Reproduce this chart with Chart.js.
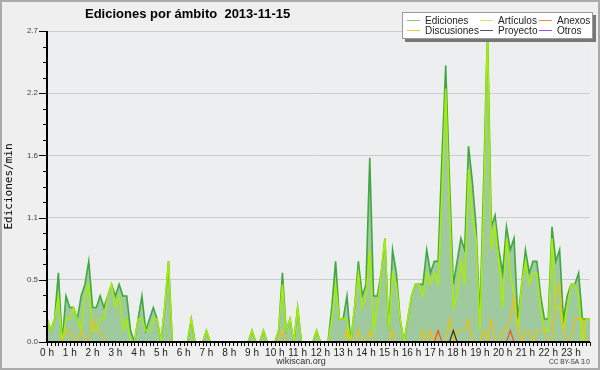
<!DOCTYPE html>
<html>
<head>
<meta charset="utf-8">
<script src="https://cdn.jsdelivr.net/npm/chart.js@4.4.0/dist/chart.umd.min.js"></script>
<style>
  html, body { margin: 0; padding: 0; background: #efefef; }
  #wrap { width: 600px; height: 370px; }
</style>
</head>
<body>
<div id="wrap"><canvas id="ambitoChart" width="600" height="370"></canvas></div>
<script>
// hour tick labels (one every 6 slots of 10 min)
const horas = ['0 h','1 h','2 h','3 h','4 h','5 h','6 h','7 h','8 h','9 h','10 h','11 h',
               '12 h','13 h','14 h','15 h','16 h','17 h','18 h','19 h','20 h','21 h','22 h','23 h'];
const minutos = ['00','10','20','30','40','50'];

// edits per minute, 10 min slots
const ediciones = [
  0.2,0.1,0.2,0.6,0,0.4,0.3,0.3,0.2,0.4,0.5,0.7,
  0.3,0.3,0.4,0.3,0.4,0.5,0.4,0.5,0.4,0.4,0.1,0,
  0.2,0.4,0.1,0.2,0.3,0.2,0,0.3,0.7,0,0,0,
  0,0,0.2,0,0,0,0.1,0,0,0,0,0,
  0,0,0,0,0,0,0.1,0,0,0.1,0,0,
  0,0.1,0.6,0.1,0.2,0,0.3,0,0,0,0,0.1,
  0,0,0,0.3,0.7,0.2,0.2,0.4,0,0.3,0.7,0.4,
  0.5,1.6,0.4,0.4,0.6,0.9,0.1,0.8,0.6,0.2,0,0.2,
  0.4,0.5,0.5,0.5,0.8,0.6,0.7,0.7,1.6,2.4,1.4,0.5,
  0.7,0.9,0.8,1.7,1.4,1.0,0.2,1.4,2.7,1.0,1.1,0.8,
  0.6,1.0,0.8,0.9,0.2,0.5,0.8,0.6,0.7,0.7,0.4,0.2,
  0.2,1.0,0.7,0.8,0.2,0.4,0.5,0.5,0.6,0.2,0.2,0.2
];
const articulos = [
  0.2,0.1,0.2,0.4,0,0.2,0.2,0.3,0.2,0.1,0.4,0.5,
  0.1,0.1,0.2,0.2,0.4,0.5,0.3,0.4,0.1,0.2,0,0,
  0.2,0.2,0.1,0.1,0.2,0.2,0,0.3,0.7,0,0,0,
  0,0,0.2,0,0,0,0.1,0,0,0,0,0,
  0,0,0,0,0,0,0.1,0,0,0.1,0,0,
  0,0.1,0.5,0.1,0.2,0,0.3,0,0,0,0,0.1,
  0,0,0,0.2,0.5,0.2,0.2,0.2,0,0.3,0.6,0.3,
  0.4,0.8,0.1,0.3,0.6,0.9,0.1,0.6,0.5,0.2,0,0.2,
  0.4,0.5,0.5,0.4,0.6,0.5,0.6,0.5,1.3,2.2,1.2,0.3,
  0.4,0.7,0.5,1.5,1.1,0.9,0.1,1.2,2.7,0.8,1.0,0.7,
  0.3,0.9,0.6,0.4,0.1,0.5,0.7,0.5,0.6,0.6,0.3,0.1,
  0.1,0.9,0.3,0.3,0.1,0.3,0.5,0.5,0.4,0,0.2,0.2
];
const discusiones = [
  0,0,0,0,0,0.1,0.1,0,0,0.1,0,0,
  0.2,0.1,0.1,0,0,0,0,0,0,0,0,0,
  0,0,0,0,0,0,0,0,0,0,0,0,
  0,0,0,0,0,0,0,0,0,0,0,0,
  0,0,0,0,0,0,0,0,0,0,0,0,
  0,0,0.1,0,0,0,0,0,0,0,0,0,
  0,0,0,0,0,0,0,0.1,0,0,0.1,0,
  0,0.1,0,0,0,0,0,0.1,0,0,0,0,
  0,0,0,0.1,0,0.1,0,0.1,0,0,0.2,0,
  0.1,0.1,0.1,0.2,0,0,0,0.1,0,0.2,0,0,
  0.1,0.1,0.2,0.4,0.1,0,0.1,0.1,0,0.1,0.1,0.1,
  0,0,0.4,0.5,0.1,0,0,0.2,0.2,0.2,0,0
];
const anexos = [
  0,0,0,0,0,0,0,0,0,0,0,0,
  0,0,0,0,0,0,0,0,0,0,0,0,
  0,0,0,0,0,0,0,0,0,0,0,0,
  0,0,0,0,0,0,0,0,0,0,0,0,
  0,0,0,0,0,0,0,0,0,0,0,0,
  0,0,0,0,0,0,0,0,0,0,0,0,
  0,0,0,0,0,0,0,0,0,0,0,0,
  0,0,0,0,0,0,0,0,0,0,0,0,
  0,0,0,0,0,0,0,0.1,0,0,0,0,
  0,0,0,0,0,0,0,0,0,0,0,0,
  0,0,0.1,0,0,0,0,0,0,0,0,0,
  0,0,0,0,0,0,0,0,0,0,0,0
];
const proyecto = [
  0,0,0,0,0,0,0,0,0,0,0,0,
  0,0,0,0,0,0,0,0,0,0,0,0,
  0,0,0,0,0,0,0,0,0,0,0,0,
  0,0,0,0,0,0,0,0,0,0,0,0,
  0,0,0,0,0,0,0,0,0,0,0,0,
  0,0,0,0,0,0,0,0,0,0,0,0,
  0,0,0,0,0,0,0,0,0,0,0,0,
  0,0,0,0,0,0,0,0,0,0,0,0,
  0,0,0,0,0,0,0,0,0,0,0,0.1,
  0,0,0,0,0,0,0,0,0,0,0,0,
  0,0,0,0,0,0,0,0,0,0,0,0,
  0,0,0,0,0,0,0,0,0,0,0,0
];
const otros = [
  0,0,0,0,0,0,0,0,0,0,0,0,
  0,0,0,0,0,0,0,0,0,0,0,0,
  0,0,0,0,0,0,0,0,0,0,0,0,
  0,0,0,0,0,0,0,0,0,0,0,0,
  0,0,0,0,0,0,0,0,0,0,0,0,
  0,0,0,0,0,0,0,0,0,0,0,0,
  0,0,0,0,0,0,0,0,0,0,0,0,
  0,0,0,0,0,0,0,0,0,0,0,0,
  0,0,0,0,0,0,0,0,0,0,0,0,
  0,0,0,0,0,0,0,0,0,0,0,0,
  0,0,0,0,0,0,0,0,0,0,0,0,
  0,0,0,0,0,0,0,0,0,0,0,0
];
const yMax = 2.7;

// slot labels 00:00 .. 23:50
const slots = [];
horas.forEach((h, i) => minutos.forEach(m => slots.push(i + ':' + m)));

const SANS = '"Liberation Sans", Arial, sans-serif';

const frame = {
  id: 'frame',
  beforeDraw(chart) {
    const {ctx, chartArea: a} = chart;
    ctx.save();
    ctx.fillStyle = '#efefef';
    ctx.fillRect(0, 0, chart.width, chart.height);
    ctx.fillStyle = '#eceef0';
    ctx.fillRect(a.left, a.top, a.right - a.left, a.bottom - a.top);
    ctx.restore();
  },
  afterDatasetsDraw(chart) {
    const {ctx, chartArea: a, scales: {x, y}} = chart;
    ctx.save();
    ctx.strokeStyle = '#000';
    ctx.lineWidth = 1;
    ctx.beginPath();
    y.ticks.forEach((t, k) => {
      const py = Math.round(y.getPixelForValue(t.value)) + 0.5;
      const len = k % 4 === 0 ? 8 : 4;
      ctx.moveTo(a.left - len, py);
      ctx.lineTo(a.left, py);
    });
    x.ticks.forEach((t, k) => {
      const px = Math.round(x.getPixelForTick(k)) + 0.5;
      ctx.moveTo(px, a.bottom);
      ctx.lineTo(px, a.bottom + 4);
    });
    ctx.stroke();
    ctx.lineWidth = 2;
    ctx.beginPath();
    ctx.moveTo(a.left, a.top);
    ctx.lineTo(a.left, a.bottom);
    ctx.lineTo(a.right, a.bottom);
    ctx.stroke();
    ctx.restore();
  },
  afterDraw(chart) {
    const ctx = chart.ctx;
    ctx.save();
    // title
    ctx.fillStyle = '#000';
    ctx.font = 'bold 13px ' + SANS;
    ctx.textBaseline = 'middle';
    ctx.textAlign = 'left';
    ctx.fillText('Ediciones por ámbito  2013-11-15', 85, 14);

    // legend box
    ctx.fillStyle = '#777';
    ctx.fillRect(405, 15, 191, 27);
    ctx.fillStyle = '#fff';
    ctx.fillRect(402, 12, 191, 27);
    ctx.strokeStyle = '#999';
    ctx.lineWidth = 1;
    ctx.strokeRect(402.5, 12.5, 190, 26);
    ctx.font = '10px ' + SANS;
    const cols = [407, 480, 539];
    const rows = [20, 30];
    const orden = [0, 1, 4, 2, 3, 5]; // Ediciones, Artículos, Anexos / Discusiones, Proyecto, Otros
    orden.forEach((di, k) => {
      const ds = chart.data.datasets[di];
      const cx = cols[k % 3], cy = rows[Math.floor(k / 3)];
      ctx.strokeStyle = ds.legendColor;
      ctx.beginPath();
      ctx.moveTo(cx, cy + 0.5);
      ctx.lineTo(cx + 13, cy + 0.5);
      ctx.stroke();
      ctx.fillStyle = '#222';
      ctx.fillText(ds.label, cx + 18, cy + 1);
    });

    // footer
    ctx.fillStyle = '#333';
    ctx.font = '9px ' + SANS;
    ctx.textAlign = 'center';
    ctx.fillText('wikiscan.org', 301, 362);
    ctx.font = '6.5px ' + SANS;
    ctx.textAlign = 'left';
    ctx.fillText('CC BY-SA 3.0', 549, 362);

    // outer frame
    ctx.strokeStyle = '#aaa';
    ctx.lineWidth = 2;
    ctx.strokeRect(1, 1, 598, 368);
    ctx.restore();
  }
};

const ctx = document.getElementById('ambitoChart').getContext('2d');
const ambitoChart = new Chart(ctx, {
  type: 'line',
  data: {
    labels: slots,
    datasets: [
      { label: 'Ediciones', data: ediciones, borderColor: '#3fa83f', backgroundColor: '#9fca9f',
        legendColor: '#88c888', fill: 'origin', borderWidth: 1.6, order: 6 },
      { label: 'Artículos', data: articulos, borderColor: '#a8ee00', legendColor: '#c8ee66',
        fill: false, borderWidth: 1.5, order: 5 },
      { label: 'Discusiones', data: discusiones, borderColor: '#f2c200', legendColor: '#f2c840',
        fill: false, borderWidth: 1.2, order: 4 },
      { label: 'Proyecto', data: proyecto, borderColor: '#333333', legendColor: '#555555',
        fill: false, borderWidth: 1.2, order: 3 },
      { label: 'Anexos', data: anexos, borderColor: '#ee5522', legendColor: '#ee8855',
        fill: false, borderWidth: 1.2, order: 2 },
      { label: 'Otros', data: otros, borderColor: '#8844ee', legendColor: '#9955ee',
        fill: false, borderWidth: 1.2, order: 1 }
    ]
  },
  options: {
    responsive: false,
    animation: false,
    layout: { padding: { top: 31, right: 10, left: 0, bottom: 0 } },
    elements: { point: { radius: 0 }, line: { tension: 0 } },
    plugins: {
      legend: { display: false },
      title: { display: false },
      tooltip: { enabled: false },
      filler: { drawTime: 'beforeDatasetsDraw' }
    },
    scales: {
      x: {
        type: 'category',
        grid: { display: false, drawTicks: false },
        border: { display: false },
        afterFit: s => { s.height = 28; },
        ticks: {
          autoSkip: false, maxRotation: 0, minRotation: 0, padding: 5,
          color: '#222', font: { family: SANS, size: 10 },
          callback: (v, k) => k % 6 === 0 ? horas[k / 6] : ''
        }
      },
      y: {
        min: 0, max: yMax,
        afterBuildTicks: s => {
          s.ticks = [];
          for (let k = 0; k <= 20; k++) s.ticks.push({ value: k * yMax * 10 / 200 });
        },
        afterFit: s => { s.width = 47; },
        grid: {
          drawTicks: false,
          color: c => (c.index % 4 === 0 && c.index > 0) ? '#cccccc' : 'rgba(0,0,0,0)'
        },
        border: { display: false },
        ticks: {
          padding: 9, color: '#444', font: { family: SANS, size: 8 },
          callback: (v, k) => k % 4 === 0 ? v.toFixed(1) : ''
        },
        title: {
          display: true, text: 'Ediciones/min', color: '#000',
          font: { family: '"DejaVu Sans Mono", monospace', size: 11 },
          padding: { top: 3, bottom: 0 }
        }
      }
    }
  },
  plugins: [frame]
});
</script>
</body>
</html>
